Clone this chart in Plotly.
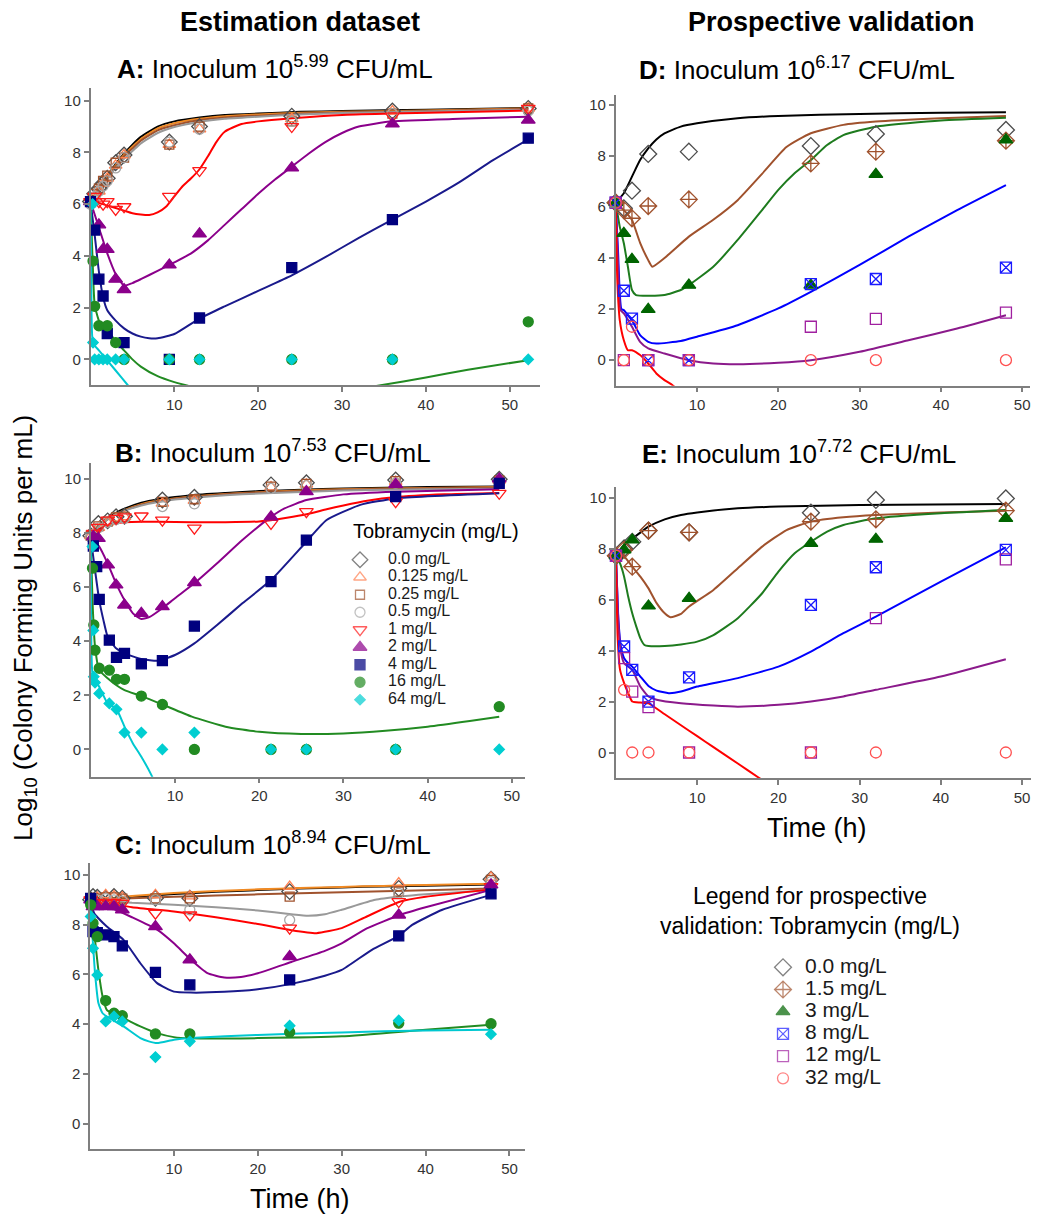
import plotly.graph_objects as go

W, H = 1037, 1216
FONT = "Liberation Sans, Arial, Helvetica, sans-serif"

# ---------------- Estimation dataset (panels A-C) ----------------
est_labels = ["0.0 mg/L", "0.125 mg/L", "0.25 mg/L", "0.5 mg/L", "1 mg/L",
              "2 mg/L", "4 mg/L", "16 mg/L", "64 mg/L"]

# Panel A: observed (time h, log10 CFU/mL)
A_obs = {
    "0.0 mg/L":   ([0, 0.5, 1, 1.5, 2, 3, 4, 9.4, 13, 24, 36, 52.2],
                   [6.1, 6.4, 6.6, 6.8, 7.0, 7.6, 7.9, 8.4, 9.0, 9.4, 9.6, 9.7]),
    "0.125 mg/L": ([0, 0.5, 1, 1.5, 2, 3, 4, 9.4, 13, 24, 36, 52.2],
                   [6.1, 6.3, 6.5, 6.8, 7.0, 7.5, 7.9, 8.3, 8.9, 9.3, 9.6, 9.7]),
    "0.25 mg/L":  ([0, 0.5, 1, 1.5, 2, 3, 4, 9.4, 13, 24, 36, 52.2],
                   [6.1, 6.4, 6.6, 6.9, 7.1, 7.6, 7.8, 8.3, 9.0, 9.2, 9.5, 9.7]),
    "0.5 mg/L":   ([0, 0.5, 1, 1.5, 2, 3, 4, 9.4, 13, 24, 36, 52.2],
                   [6.0, 6.3, 6.5, 6.7, 6.9, 7.4, 7.8, 8.4, 8.9, 9.2, 9.5, 9.6]),
    "1 mg/L":     ([0, 0.5, 1, 1.5, 2, 3, 4, 9.4, 13, 24, 36, 52.2],
                   [6.1, 6.3, 6.1, 6.0, 6.1, 5.8, 5.9, 6.3, 7.3, 9.0, 9.4, 9.7]),
    "2 mg/L":     ([0, 1, 1.5, 2, 3, 4, 9.4, 13, 24, 36, 52.2],
                   [6.1, 5.2, 4.25, 4.25, 3.1, 2.7, 3.65, 4.85, 7.4, 9.1, 9.25]),
    "4 mg/L":     ([0, 0.5, 1, 1.5, 2, 4, 9.4, 13, 24, 36, 52.2],
                   [6.1, 5.0, 3.1, 2.45, 1.0, 0.65, 0.0, 1.6, 3.55, 5.4, 8.55]),
    "16 mg/L":    ([0.3, 0.5, 1, 2, 3, 4, 9.4, 13, 24, 36, 52.2],
                   [3.8, 2.05, 1.3, 1.3, 0.65, 0, 0, 0, 0, 0, 1.45]),
    "64 mg/L":    ([0.25, 0.3, 0.5, 1, 1.5, 2, 3, 4, 9.4, 13, 24, 36, 52.2],
                   [6.0, 0.65, 0, 0, 0, 0, 0, 0, 0, 0, 0, 0, 0]),
}
# Panel A: model fits
A_fit = {
    "0.0 mg/L":   ([0, 1, 2, 3, 4, 5, 6, 8, 10, 13, 16, 20, 25, 30, 40, 52.2],
                   [6.1, 6.6, 7.1, 7.55, 7.95, 8.3, 8.6, 9.0, 9.2, 9.35, 9.45, 9.5, 9.57, 9.6, 9.65, 9.72]),
    "0.125 mg/L": ([0, 1, 2, 3, 4, 5, 6, 8, 10, 13, 16, 20, 25, 30, 40, 52.2],
                   [6.1, 6.58, 7.07, 7.5, 7.9, 8.22, 8.52, 8.93, 9.13, 9.3, 9.4, 9.47, 9.53, 9.57, 9.62, 9.7]),
    "0.25 mg/L":  ([0, 1, 2, 3, 4, 5, 6, 8, 10, 13, 16, 20, 25, 30, 40, 52.2],
                   [6.1, 6.55, 7.0, 7.45, 7.85, 8.15, 8.45, 8.85, 9.05, 9.25, 9.35, 9.42, 9.5, 9.55, 9.6, 9.68]),
    "0.5 mg/L":   ([0, 1, 2, 3, 4, 5, 6, 8, 10, 13, 16, 20, 25, 30, 40, 52.2],
                   [6.1, 6.5, 6.95, 7.4, 7.75, 8.05, 8.35, 8.75, 8.98, 9.18, 9.3, 9.38, 9.47, 9.52, 9.58, 9.65]),
    "1 mg/L":     ([0, 1, 2, 3, 4, 5, 6, 7, 8, 9, 10, 11, 12, 13, 14, 15, 16, 18, 20, 24, 30, 36, 52.2],
                   [6.1, 6.05, 5.95, 5.85, 5.75, 5.65, 5.6, 5.58, 5.68, 5.9, 6.3, 6.7, 7.0, 7.35, 7.85, 8.4, 8.8, 9.1, 9.2, 9.32, 9.45, 9.5, 9.62]),
    "2 mg/L":     ([0, 1, 2, 3, 4, 5, 6, 8, 10, 12, 14, 16, 18, 20, 22, 24, 26, 28, 30, 32, 36, 44, 52.2],
                   [6.1, 5.1, 4.1, 3.3, 2.85, 2.95, 3.1, 3.42, 3.75, 4.1, 4.6, 5.2, 5.8, 6.4, 6.95, 7.45, 7.95, 8.4, 8.75, 9.0, 9.2, 9.3, 9.38]),
    "4 mg/L":     ([0, 0.5, 1, 1.5, 2, 3, 4, 5, 6, 7, 8, 10, 13, 16, 20, 24, 28, 32, 36, 40, 44, 48, 52.2],
                   [6.1, 4.8, 3.4, 2.4, 1.9, 1.5, 1.2, 1.0, 0.88, 0.82, 0.82, 0.98, 1.58, 2.05, 2.65, 3.25, 3.95, 4.7, 5.4, 6.1, 6.85, 7.7, 8.5]),
    "16 mg/L":    ([0, 0.25, 0.5, 1, 1.5, 2, 3, 4, 5, 6, 8, 10, 12, 15, 20, 25, 30, 34.6, 40, 45, 52.2],
                   [6.1, 3.8, 2.1, 1.5, 1.3, 1.15, 0.7, 0.35, 0.0, -0.28, -0.65, -0.88, -1.05, -1.3, -1.55, -1.5, -1.25, -1.0, -0.7, -0.4, -0.03]),
    "64 mg/L":    ([0, 0.1, 0.3, 1, 2, 3, 4.45, 6],
                   [6.1, 3.0, 0.62, 0.35, -0.04, -0.43, -1.0, -1.6]),
}

# Panel B
B_obs = {
    "0.0 mg/L":   ([0, 0.9, 2, 3, 4, 8.5, 12.3, 21.4, 25.6, 36.2, 48.5],
                   [7.9, 8.35, 8.45, 8.6, 8.62, 9.22, 9.32, 9.78, 9.86, 9.96, 9.99]),
    "0.125 mg/L": ([0, 0.9, 2, 3, 4, 8.5, 12.3, 21.4, 25.6, 36.2, 48.5],
                   [7.9, 8.2, 8.4, 8.55, 8.6, 9.1, 9.2, 9.7, 9.8, 9.9, 9.95]),
    "0.25 mg/L":  ([0, 0.9, 2, 3, 4, 8.5, 12.3, 21.4, 25.6, 36.2, 48.5],
                   [7.9, 8.25, 8.42, 8.58, 8.6, 9.15, 9.25, 9.72, 9.82, 9.92, 9.95]),
    "0.5 mg/L":   ([0, 0.9, 2, 3, 4, 8.5, 12.3, 21.4, 25.6, 36.2, 48.5],
                   [7.85, 8.2, 8.4, 8.5, 8.55, 8.98, 9.08, 9.65, 9.75, 9.85, 9.9]),
    "1 mg/L":     ([0.3, 0.9, 2, 3, 4, 6, 8.5, 12.3, 21.4, 25.6, 36.2, 48.5],
                   [7.99, 8.21, 8.48, 8.54, 8.6, 8.63, 8.48, 8.18, 8.36, 8.79, 9.16, 9.47]),
    "2 mg/L":     ([0.3, 0.9, 2, 3, 4, 6, 8.5, 12.3, 21.4, 25.6, 36.2, 48.5],
                   [7.87, 7.8, 6.82, 6.08, 5.34, 5.03, 5.28, 6.17, 8.6, 9.53, 9.8, 10.0]),
    "4 mg/L":     ([0.3, 0.7, 1.0, 2.2, 3.05, 4.0, 6.0, 8.5, 12.3, 21.4, 25.6, 36.2, 48.5],
                   [7.52, 6.76, 5.55, 4.04, 3.4, 3.55, 3.16, 3.28, 4.56, 6.2, 7.74, 9.35, 9.84]),
    "16 mg/L":    ([0.2, 0.36, 0.5, 1.0, 2.2, 3.05, 4.0, 6.0, 8.5, 12.3, 21.4, 25.6, 36.2, 48.5],
                   [6.7, 4.6, 3.67, 3.0, 2.93, 2.59, 2.59, 1.97, 1.66, 0, 0, 0, 0, 1.58]),
    "64 mg/L":    ([0.2, 0.3, 0.36, 0.5, 1.0, 2.2, 3.05, 4.0, 6.0, 8.5, 12.3, 21.4, 25.6, 36.2, 48.5],
                   [7.5, 4.4, 2.69, 2.47, 2.07, 1.7, 1.48, 0.62, 0.62, 0, 0.62, 0, 0, 0, 0]),
}
B_fit = {
    "0.0 mg/L":   ([0, 0.5, 1, 2, 3, 4, 6, 8, 10, 12, 16, 20, 25, 30, 40, 48.5],
                   [7.8, 8.1, 8.3, 8.55, 8.75, 8.9, 9.12, 9.25, 9.33, 9.4, 9.48, 9.55, 9.6, 9.65, 9.7, 9.72]),
    "0.125 mg/L": ([0, 0.5, 1, 2, 3, 4, 6, 8, 10, 12, 16, 20, 25, 30, 40, 48.5],
                   [7.8, 8.08, 8.27, 8.52, 8.7, 8.85, 9.07, 9.2, 9.28, 9.35, 9.44, 9.51, 9.57, 9.62, 9.67, 9.7]),
    "0.25 mg/L":  ([0, 0.5, 1, 2, 3, 4, 6, 8, 10, 12, 16, 20, 25, 30, 40, 48.5],
                   [7.8, 8.07, 8.26, 8.5, 8.7, 8.84, 9.05, 9.18, 9.27, 9.33, 9.43, 9.5, 9.55, 9.6, 9.66, 9.68]),
    "0.5 mg/L":   ([0, 0.5, 1, 2, 3, 4, 6, 8, 10, 12, 16, 20, 25, 30, 40, 48.5],
                   [7.8, 8.05, 8.25, 8.5, 8.68, 8.82, 9.02, 9.15, 9.24, 9.3, 9.4, 9.46, 9.52, 9.57, 9.62, 9.64]),
    "1 mg/L":     ([0, 0.5, 1, 2, 3, 4, 6, 8, 12, 16, 20, 22, 24, 26, 28, 30, 33, 36, 42, 48.5],
                   [7.8, 8.0, 8.15, 8.3, 8.37, 8.4, 8.42, 8.42, 8.4, 8.4, 8.43, 8.5, 8.6, 8.72, 8.88, 9.02, 9.2, 9.32, 9.43, 9.48]),
    "2 mg/L":     ([0, 1, 2, 3, 4, 5, 6, 7, 8.5, 10, 12.3, 15, 18, 21.4, 23, 25.6, 30, 36.2, 48.5],
                   [7.8, 7.5, 6.88, 6.14, 5.52, 5.03, 4.82, 4.9, 5.22, 5.59, 6.14, 6.88, 7.74, 8.6, 8.91, 9.22, 9.43, 9.53, 9.62]),
    "4 mg/L":     ([0, 0.5, 1, 1.5, 2, 3, 4, 6, 8, 10, 12.3, 15, 18, 21.4, 25.6, 28, 32, 36.2, 48.5],
                   [7.8, 6.63, 5.52, 4.78, 4.17, 3.74, 3.55, 3.34, 3.28, 3.49, 3.92, 4.6, 5.4, 6.26, 7.68, 8.48, 9.04, 9.28, 9.47]),
    "16 mg/L":    ([0, 0.2, 0.5, 1, 2, 3, 4, 6, 8.5, 12, 16, 20, 25, 30, 35, 40, 45, 48.5],
                   [7.8, 5.5, 3.8, 2.93, 2.63, 2.38, 2.19, 1.97, 1.66, 1.21, 0.84, 0.65, 0.57, 0.59, 0.69, 0.84, 1.05, 1.21]),
    "64 mg/L":    ([0, 0.2, 0.5, 1, 2, 3, 4, 5, 6, 7.2, 8],
                   [7.8, 2.8, 2.56, 2.32, 1.7, 1.52, 0.84, 0.22, -0.27, -0.95, -1.5]),
}

# Panel C
C_t = [0.08, 0.36, 0.87, 1.87, 2.86, 3.85, 7.8, 11.9, 23.8, 36.8, 47.8]
C_obs = {
    "0.0 mg/L":   (C_t, [9.0, 9.13, 9.1, 9.06, 9.13, 9.06, 9.06, 9.06, 9.33, 9.46, 9.83]),
    "0.125 mg/L": (C_t, [9.0, 9.05, 9.1, 9.2, 9.15, 9.1, 9.2, 9.15, 9.53, 9.67, 9.9]),
    "0.25 mg/L":  (C_t, [9.0, 9.0, 9.05, 9.1, 9.1, 9.05, 9.06, 9.06, 9.13, 9.33, 9.8]),
    "0.5 mg/L":   (C_t, [9.0, 8.93, 9.0, 9.05, 9.0, 8.95, 9.0, 8.6, 8.19, 9.26, 9.73]),
    "1 mg/L":     (C_t, [9.0, 8.86, 8.9, 8.86, 8.9, 8.86, 8.46, 8.39, 7.86, 8.93, 9.53]),
    "2 mg/L":     (C_t, [9.0, 8.73, 8.73, 8.73, 8.73, 8.6, 7.92, 6.59, 6.72, 8.39, 9.6]),
    "4 mg/L":     (C_t, [9.06, 7.72, 7.68, 7.59, 7.52, 7.15, 6.08, 5.58, 5.78, 7.55, 9.24]),
    "16 mg/L":    (C_t, [8.8, 8.06, 7.52, 4.95, 4.44, 4.34, 3.61, 3.61, 3.68, 4.04, 4.02]),
    "64 mg/L":    (C_t, [8.33, 7.05, 5.98, 4.11, 4.31, 4.11, 2.68, 3.31, 3.94, 4.15, 3.6]),
}
C_fit = {
    "0.0 mg/L":   ([0, 2, 5, 10, 15, 20, 25, 30, 35, 40, 47.8],
                   [9.0, 9.04, 9.12, 9.23, 9.32, 9.39, 9.45, 9.5, 9.54, 9.57, 9.62]),
    "0.125 mg/L": ([0, 2, 5, 10, 15, 20, 25, 30, 35, 40, 47.8],
                   [9.0, 9.05, 9.15, 9.27, 9.35, 9.42, 9.47, 9.52, 9.56, 9.6, 9.65]),
    "0.25 mg/L":  ([0, 2, 5, 10, 15, 20, 25, 30, 35, 40, 47.8],
                   [9.0, 9.02, 9.06, 9.12, 9.17, 9.22, 9.26, 9.3, 9.34, 9.38, 9.45]),
    "0.5 mg/L":   ([0, 5, 10, 15, 20, 24, 26, 28, 30, 34, 37, 40, 47.8],
                   [9.0, 8.88, 8.8, 8.7, 8.57, 8.42, 8.36, 8.42, 8.6, 9.0, 9.13, 9.22, 9.38]),
    "1 mg/L":     ([0, 5, 10, 15, 20, 24, 27, 30, 33, 37, 40, 47.8],
                   [9.0, 8.7, 8.53, 8.3, 8.03, 7.78, 7.66, 7.86, 8.33, 8.93, 9.12, 9.42]),
    "2 mg/L":     ([0, 1, 3, 5, 8, 10, 12, 14, 16, 18, 20, 24, 28, 30, 33, 37, 40, 47.8],
                   [9.0, 8.75, 8.6, 8.3, 7.8, 7.25, 6.6, 6.05, 5.88, 5.9, 6.05, 6.5, 6.95, 7.25, 7.85, 8.4, 8.7, 9.4]),
    "4 mg/L":     ([0, 0.5, 1, 2, 4, 6, 8, 10, 12, 16, 20, 24, 28, 30, 33.6, 36.8, 38.4, 42, 47.8],
                   [9.0, 8.46, 8.26, 7.93, 7.39, 6.45, 5.65, 5.31, 5.27, 5.3, 5.4, 5.62, 5.95, 6.18, 6.99, 7.55, 7.99, 8.6, 9.2]),
    "16 mg/L":    ([0, 0.3, 0.6, 1, 1.5, 2, 3, 4, 6, 8, 10, 12, 20, 30, 40, 47.8],
                   [9.0, 8.33, 7.39, 6.18, 5.11, 4.58, 4.38, 4.24, 3.91, 3.64, 3.48, 3.43, 3.44, 3.51, 3.78, 3.98]),
    "64 mg/L":    ([0, 0.3, 0.6, 1, 1.5, 2, 3, 4, 6, 7, 8, 10, 12, 20, 30, 40, 47.8],
                   [9.0, 7.52, 6.05, 4.85, 4.44, 4.31, 4.11, 3.91, 3.44, 3.31, 3.24, 3.37, 3.44, 3.57, 3.67, 3.75, 3.78]),
}

# ---------------- Prospective validation (panels D-E) ----------------
pro_labels = ["0.0 mg/L", "1.5 mg/L", "3 mg/L", "8 mg/L", "12 mg/L", "32 mg/L"]

D_obs = {
    "0.0 mg/L": ([0, 1, 2, 4, 9, 24, 32, 48], [6.17, 5.95, 6.64, 8.08, 8.17, 8.39, 8.86, 9.02]),
    "1.5 mg/L": ([0, 1, 2, 4, 9, 24, 32, 48], [6.17, 5.88, 5.56, 6.04, 6.3, 7.71, 8.17, 8.6]),
    "3 mg/L":   ([0, 1, 2, 4, 9, 24, 32, 48], [6.17, 4.97, 3.95, 1.99, 2.94, 2.94, 7.28, 8.63]),
    "8 mg/L":   ([0, 1, 2, 4, 9, 24, 32, 48], [6.17, 2.72, 1.63, 0, 0, 2.98, 3.18, 3.63]),
    "12 mg/L":  ([0, 1, 4, 9, 24, 32, 48], [6.17, 0, 0, 0, 1.31, 1.62, 1.86]),
    "32 mg/L":  ([0, 1, 2, 4, 9, 24, 32, 48], [6.17, 0, 1.31, 0, 0, 0, 0, 0]),
}
D_fit = {
    "0.0 mg/L": ([0, 1, 2, 3, 4, 5, 6, 8, 10, 15, 20, 30, 40, 48],
                 [6.17, 6.54, 7.19, 7.84, 8.3, 8.65, 8.89, 9.15, 9.28, 9.48, 9.57, 9.65, 9.69, 9.71]),
    "1.5 mg/L": ([0, 1, 2, 3, 4, 4.5, 6, 9, 12, 15, 18, 21, 24, 28, 32, 40, 48],
                 [6.17, 5.88, 5.49, 4.6, 3.92, 3.66, 4.0, 4.84, 5.5, 6.27, 7.3, 8.35, 8.89, 9.22, 9.35, 9.48, 9.57]),
    "3 mg/L":   ([0, 0.5, 1, 1.5, 2, 2.5, 4, 6, 8, 9, 12, 15, 18, 20, 22, 24, 26, 28, 32, 40, 48],
                 [6.17, 5.23, 4.58, 3.66, 2.75, 2.55, 2.52, 2.55, 2.75, 2.94, 3.66, 4.71, 5.88, 6.67, 7.32, 7.84, 8.43, 8.82, 9.15, 9.39, 9.5]),
    "8 mg/L":   ([0, 0.3, 0.5, 0.7, 1, 1.5, 2, 3, 4, 5, 8, 10, 15, 20, 24, 30, 36, 42, 48],
                 [6.17, 4.18, 2.61, 2.0, 1.96, 1.76, 1.57, 0.98, 0.72, 0.65, 0.75, 0.92, 1.37, 2.03, 2.68, 3.73, 4.84, 5.88, 6.86]),
    "12 mg/L":  ([0, 0.3, 0.6, 1, 2, 3, 4, 6, 9, 12, 15, 20, 24, 30, 36, 42, 48],
                 [6.17, 3.66, 1.96, 1.83, 1.31, 0.72, 0.46, 0.26, 0.0, -0.13, -0.16, -0.1, 0.0, 0.33, 0.78, 1.24, 1.76]),
    "32 mg/L":  ([0, 0.2, 0.5, 1, 1.5, 2, 3, 4, 5, 6, 7, 9],
                 [6.17, 3.1, 1.57, 0.78, 0.39, 0.39, 0.2, -0.13, -0.52, -0.78, -0.98, -1.5]),
}

E_obs = {
    "0.0 mg/L": ([0, 1, 2, 4, 9, 24, 32, 48], [7.72, 8.01, 8.27, 8.71, 8.64, 9.41, 9.91, 9.97]),
    "1.5 mg/L": ([0, 1, 2, 4, 9, 24, 32, 48], [7.72, 7.95, 7.29, 8.71, 8.64, 9.06, 9.15, 9.49]),
    "3 mg/L":   ([0, 1, 2, 4, 9, 24, 32, 48], [7.72, 7.95, 8.34, 5.75, 6.05, 8.21, 8.37, 9.19]),
    "8 mg/L":   ([0, 1, 2, 4, 9, 24, 32, 48], [7.72, 4.16, 3.24, 2.0, 2.95, 5.79, 7.27, 7.95]),
    "12 mg/L":  ([0, 1, 2, 4, 9, 24, 32, 48], [7.72, 3.7, 2.39, 1.78, 0, 0, 5.27, 7.58]),
    "32 mg/L":  ([0, 1, 2, 4, 9, 24, 32, 48], [7.72, 2.46, 0, 0, 0, 0, 0, 0]),
}
E_fit = {
    "0.0 mg/L": ([0, 1, 2, 3, 4, 6, 8, 10, 15, 20, 30, 48],
                 [7.72, 8.14, 8.4, 8.63, 8.86, 9.15, 9.32, 9.42, 9.58, 9.65, 9.71, 9.75]),
    "1.5 mg/L": ([0, 1, 2, 3, 4, 5, 6, 6.7, 8, 9, 12, 15, 18, 21, 24, 28, 32, 40, 48],
                 [7.72, 7.69, 7.29, 6.9, 6.44, 5.86, 5.46, 5.31, 5.44, 5.73, 6.38, 7.23, 8.08, 8.73, 9.06, 9.23, 9.32, 9.42, 9.49]),
    "3 mg/L":   ([0, 0.5, 1, 1.5, 2, 2.5, 3, 3.5, 4, 6, 8, 10, 12, 15, 18, 20, 22, 24, 26, 28, 32, 40, 48],
                 [7.72, 7.42, 6.9, 6.12, 5.46, 4.94, 4.48, 4.22, 4.18, 4.18, 4.24, 4.35, 4.61, 5.27, 6.25, 7.1, 7.82, 8.27, 8.67, 8.93, 9.19, 9.39, 9.52]),
    "8 mg/L":   ([0, 0.3, 0.6, 1, 1.5, 2, 3, 4, 5, 6.5, 8, 10, 15, 20, 24, 28, 32, 40, 48],
                 [7.72, 5.2, 4.16, 3.7, 3.5, 3.37, 2.98, 2.61, 2.43, 2.33, 2.39, 2.59, 2.92, 3.37, 3.96, 4.68, 5.33, 6.71, 8.05]),
    "12 mg/L":  ([0, 0.3, 0.6, 1, 2, 3, 4, 5, 8, 12, 15, 20, 24, 28, 32, 40, 48],
                 [7.72, 5.07, 3.96, 3.5, 3.24, 2.59, 2.2, 2.07, 1.93, 1.84, 1.8, 1.87, 2.0, 2.2, 2.46, 2.98, 3.66]),
    "32 mg/L":  ([0, 0.2, 0.5, 1, 1.5, 2, 3, 4, 6, 8, 10, 12, 15, 17.5, 20],
                 [7.72, 4.55, 3.24, 2.72, 2.33, 2.0, 1.96, 1.93, 1.5, 1.07, 0.64, 0.21, -0.43, -0.97, -1.5]),
}

# ---------------- styles ----------------
est_mcolor = ["#4d4d4d", "#ff7f50", "#a0522d", "#a6a6a6", "#ff1a1a", "#8b008b", "#00007f", "#228b22", "#00ced1"]
est_lcolor = ["#000000", "#f08a24", "#a0522d", "#999999", "#ff0000", "#8b008b", "#1a1a8c", "#228b22", "#00c8d0"]
est_symbol = ["diamond-open", "triangle-up-open", "square-open", "circle-open", "triangle-down-open",
              "triangle-up", "square", "circle", "diamond"]
est_size = [12, 11, 9, 10, 12, 12, 10, 10, 8]

pro_mcolor = ["#4d4d4d", "#a0522d", "#006400", "#1a1aff", "#a020a0", "#ff5050"]
pro_lcolor = ["#000000", "#a0522d", "#1e7b1e", "#0000ff", "#8b1a8b", "#ff0000"]
pro_symbol = ["diamond-open", "diamond-cross-open", "triangle-up", "square-x-open", "square-open", "circle-open"]
pro_size = [13, 13, 12, 11, 11, 11]


def px_x(a, b):
    return [a / W, b / W]


def px_y(top, bottom):
    return [1 - bottom / H, 1 - top / H]


fig = go.Figure()

panels = [
    ("x", "y", A_obs, A_fit, est_labels, "est"),
    ("x2", "y2", B_obs, B_fit, est_labels, "est"),
    ("x3", "y3", C_obs, C_fit, est_labels, "est"),
    ("x4", "y4", D_obs, D_fit, pro_labels, "pro"),
    ("x5", "y5", E_obs, E_fit, pro_labels, "pro"),
]

# fitted curves first
for xa, ya, obs, fit, labels, kind in panels:
    lc = est_lcolor if kind == "est" else pro_lcolor
    for i, lab in enumerate(labels):
        t, v = fit[lab]
        fig.add_trace(go.Scatter(x=t, y=v, xaxis=xa, yaxis=ya, mode="lines",
                                 line=dict(color=lc[i], width=2, shape="spline", smoothing=0.5),
                                 showlegend=False, hoverinfo="skip"))
# observations on top
for xa, ya, obs, fit, labels, kind in panels:
    mc = est_mcolor if kind == "est" else pro_mcolor
    sy = est_symbol if kind == "est" else pro_symbol
    sz = est_size if kind == "est" else pro_size
    for i, lab in enumerate(labels):
        t, v = obs[lab]
        fig.add_trace(go.Scatter(x=t, y=v, xaxis=xa, yaxis=ya, mode="markers", name=lab,
                                 marker=dict(symbol=sy[i], color=mc[i], size=sz[i],
                                             line=dict(color=mc[i], width=1.3)),
                                 showlegend=False, cliponaxis=False))


# custom legends drawn on their own hidden axes (rows = legend index)
def add_legend(xa, ya, labels, colors, symbols, sizes, fsize):
    idx = list(range(len(labels)))
    fig.add_trace(go.Scatter(x=[0] * len(labels), y=idx, xaxis=xa, yaxis=ya, mode="markers",
                             marker=dict(symbol=symbols, color=colors, size=sizes,
                                         line=dict(color=colors, width=1.3)),
                             showlegend=False, hoverinfo="skip", cliponaxis=False))
    fig.add_trace(go.Scatter(x=[1] * len(labels), y=idx, xaxis=xa, yaxis=ya, mode="text",
                             text=labels, textposition="middle right",
                             textfont=dict(size=fsize, color="#1a1a1a", family=FONT),
                             showlegend=False, hoverinfo="skip", cliponaxis=False))


add_legend("x6", "y6", est_labels, est_mcolor, est_symbol, est_size, 16)
add_legend("x7", "y7", pro_labels, pro_mcolor, pro_symbol, pro_size, 21)

axis_common = dict(showline=True, linecolor="#7f7f7f", linewidth=1.5, ticks="outside",
                   ticklen=5, tickwidth=1.5, tickcolor="#7f7f7f", showgrid=False, zeroline=False,
                   tickfont=dict(size=15, color="#333333", family=FONT), fixedrange=True)
xt = dict(tickmode="array", tickvals=[10, 20, 30, 40, 50])
yt = dict(tickmode="array", tickvals=[0, 2, 4, 6, 8, 10])

geo = {
    "": (px_x(90.5, 540), px_y(88, 385), [0, 53.6], [-0.99, 10.49]),
    "2": (px_x(90.8, 525), px_y(463, 776.7), [0, 51.56], [-1.01, 10.59]),
    "3": (px_x(90, 525), px_y(863, 1149.3), [0, 51.85], [-1.03, 10.48]),
    "4": (px_x(615.7, 1030), px_y(95, 385.7), [0, 50.96], [-1.0, 10.39]),
    "5": (px_x(616, 1031), px_y(486.7, 778), [0, 51.1], [-1.0, 10.43]),
}
layout_axes = {}
for k, (dx, dy, rx, ry) in geo.items():
    layout_axes["xaxis" + k] = dict(domain=dx, range=rx, anchor="y" + k, **xt, **axis_common)
    layout_axes["yaxis" + k] = dict(domain=dy, range=ry, anchor="x" + k, **yt, **axis_common)

hidden = dict(visible=False, fixedrange=True, showgrid=False, zeroline=False)
n1, n2 = len(est_labels), len(pro_labels)
row1, row2 = 17.5, 22.2
layout_axes["xaxis6"] = dict(domain=px_x(332, 500), range=[-1, 5], anchor="y6", **hidden)
layout_axes["yaxis6"] = dict(domain=px_y(551, 551 + row1 * n1), range=[n1 - 0.5, -0.5], anchor="x6", **hidden)
layout_axes["xaxis7"] = dict(domain=px_x(761, 959), range=[-1, 8], anchor="y7", **hidden)
layout_axes["yaxis7"] = dict(domain=px_y(956.2, 956.2 + row2 * n2), range=[n2 - 0.5, -0.5], anchor="x7", **hidden)


def ann(text, x, y, size, angle=0, xanchor="center"):
    return dict(text=text, x=x / W, y=1 - y / H, xref="paper", yref="paper", showarrow=False,
                xanchor=xanchor, yanchor="middle", textangle=angle,
                font=dict(size=size, color="#000000", family=FONT))


annotations = [
    ann("<b>Estimation dataset</b>", 300, 22, 27),
    ann("<b>Prospective validation</b>", 831, 22, 27),
    ann("<b>A:</b> Inoculum 10<sup>5.99</sup> CFU/mL", 275, 67, 26),
    ann("<b>B:</b> Inoculum 10<sup>7.53</sup> CFU/mL", 273, 451, 26),
    ann("<b>C:</b> Inoculum 10<sup>8.94</sup> CFU/mL", 273, 843, 26),
    ann("<b>D:</b> Inoculum 10<sup>6.17</sup> CFU/mL", 797, 68, 26),
    ann("<b>E:</b> Inoculum 10<sup>7.72</sup> CFU/mL", 799, 452, 26),
    ann("Time (h)", 300, 1199, 27),
    ann("Time (h)", 817, 828, 27),
    ann("Log<sub>10</sub> (Colony Forming Units per mL)", 24, 628, 26, angle=-90),
    ann("Tobramycin (mg/L)", 436, 531, 20),
    ann("Legend for prospective<br>validation: Tobramycin (mg/L)", 810, 911, 23),
]

fig.update_layout(
    width=W, height=H, margin=dict(l=0, r=0, t=0, b=0),
    paper_bgcolor="white", plot_bgcolor="rgba(0,0,0,0)",
    font=dict(family=FONT, color="#000000"),
    showlegend=False, annotations=annotations, **layout_axes,
)

fig.write_html("out.html")
